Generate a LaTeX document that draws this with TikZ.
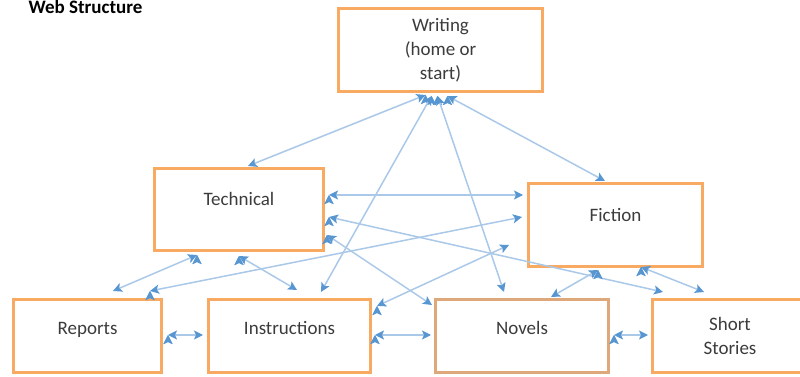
\documentclass[tikz,border=0pt]{standalone}
\usepackage{fontspec}
\setmainfont{Carlito}
\usepackage{tikz}
\usetikzlibrary{arrows.meta}
\definecolor{boxorange}{RGB}{249,170,98}
\definecolor{boxtan}{RGB}{222,168,122}
\definecolor{lineblue}{RGB}{170,200,232}
\definecolor{headblue}{RGB}{88,150,210}
\definecolor{textgray}{RGB}{60,60,60}

\begin{document}
\begin{tikzpicture}[x=1pt, y=1pt,
  box/.style={draw=boxorange, line width=3pt, fill=white, rectangle, minimum height=73pt, text=textgray, font=\fontsize{19}{24}\selectfont},
  >={Stealth[length=9pt,width=9pt,inset=2pt,color=headblue]},
  link/.style={<->, draw=lineblue, line width=1.5pt}]
\useasboundingbox (0,0) rectangle (800,377);
\node[anchor=base west, font=\bfseries\fontsize{19}{24}\selectfont] (title) at (25,363) {Web Structure};
\node[box, minimum width=204pt, minimum height=83pt, align=center] (write) at (440.5,327) {Writing\\(home or\\start)};
\node[box, minimum width=169pt, minimum height=82pt, text depth=21pt] (tech) at (239,167.5) {Technical};
\node[box, minimum width=174pt, minimum height=83pt, text depth=20pt] (fict) at (615.5,152) {Fiction};
\node[box, minimum width=148pt, text depth=16pt] (rep) at (87.5,41) {Reports};
\node[box, minimum width=162pt, text depth=16pt] (inst) at (289.5,41) {Instructions};
\node[box, draw=boxtan, minimum width=173pt, text depth=16pt] (nov) at (522,41) {Novels};
\node[box, minimum width=155pt, align=center] (shst) at (730,41) {Short\\Stories};
\draw[link] ([shift={(-15,-2)}]write.south) edge ([shift={(9,1)}]tech.north);
\draw[link] ([shift={(7,-3)}]write.south) edge ([shift={(-10.5,1)}]fict.north);
\draw[link] ([shift={(-9,-3)}]write.south) edge ([shift={(31.5,6)}]inst.north);
\draw[link] ([shift={(-3,-3)}]write.south) edge ([shift={(-18,6)}]nov.north);
\draw[link] ([shift={(4,14.5)}]tech.east) edge ([shift={(-4,30)}]fict.west);
\draw[link] ([shift={(4,-7.5)}]tech.east) edge ([shift={(-67,6)}]shst.north);
\draw[link] ([shift={(2,-25.5)}]tech.east) edge ([shift={(-2,31)}]nov.west);
\draw[link] ([shift={(62.5,7)}]rep.north) edge ([shift={(-5,8)}]fict.west);
\draw[link] ([shift={(5,30)}]inst.east) edge ([shift={(-18,-20)}]fict.west);
\draw[link] ([shift={(-42,-3)}]tech.south) edge ([shift={(25.5,7)}]rep.north);
\draw[link] ([shift={(0,-4)}]tech.south) edge ([shift={(7.5,8)}]inst.north);
\draw[link] ([shift={(-17.5,-2)}]fict.south) edge ([shift={(29,1)}]nov.north);
\draw[link] ([shift={(25.5,1)}]fict.south) edge ([shift={(-26,6)}]shst.north);
\draw[link] ([shift={(5,1)}]rep.east) edge ([shift={(-4,1)}]inst.west);
\draw[link] ([shift={(3,1)}]inst.east) edge ([shift={(-3,1)}]nov.west);
\draw[link] ([shift={(4,1)}]nov.east) edge ([shift={(-3,1)}]shst.west);
\end{tikzpicture}
\end{document}
